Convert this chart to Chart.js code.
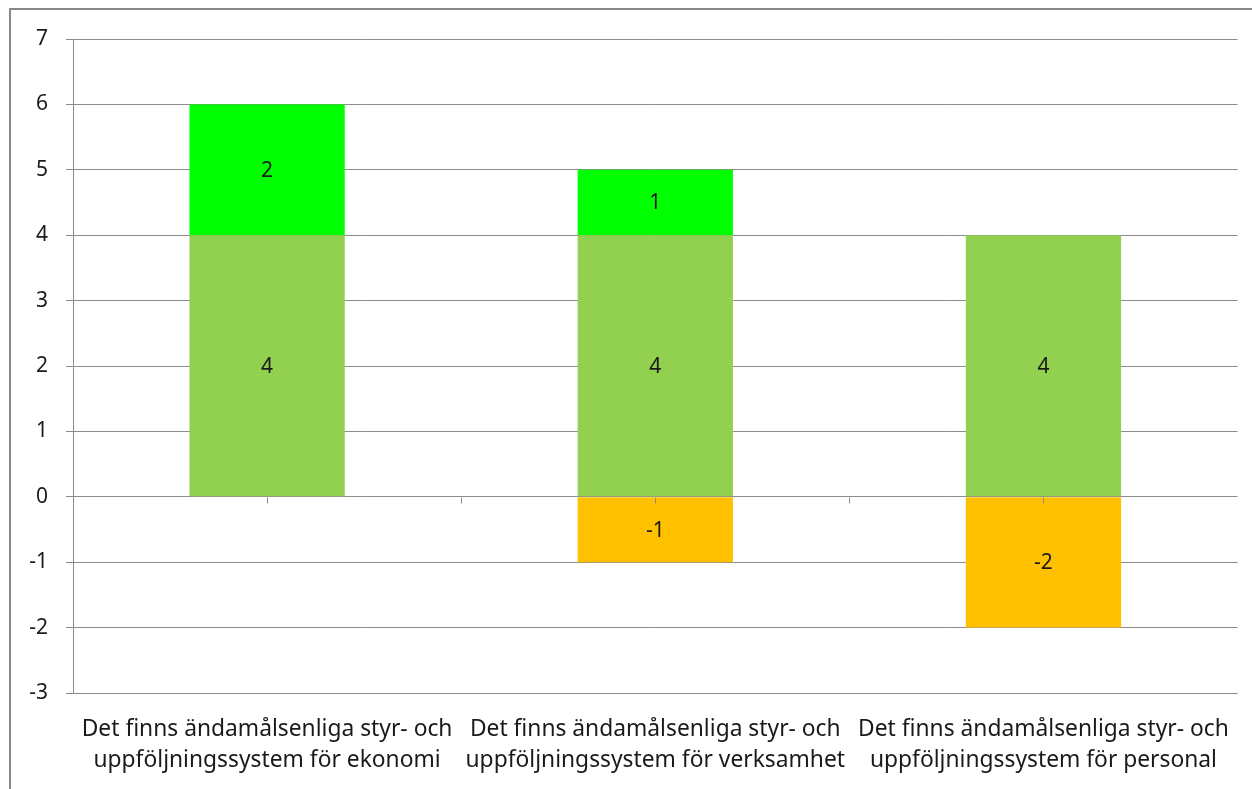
<!DOCTYPE html>
<html>
  <head>
    <title>styr- och uppföljningssystem</title>
    <style>
      body { margin: 0; background: #fff; }
      canvas { display: block; }
    </style>
  </head>
  <body>
    <canvas id="canvas" width="1252" height="789"></canvas>

    <script src="https://cdn.jsdelivr.net/npm/chart.js@4/dist/chart.umd.min.js"></script>
    <script>
      // data
      const categories = [
        ["Det finns ändamålsenliga styr- och", "uppföljningssystem för ekonomi"],
        ["Det finns ändamålsenliga styr- och", "uppföljningssystem för verksamhet"],
        ["Det finns ändamålsenliga styr- och", "uppföljningssystem för personal"],
      ];
      const seriesBase = [4, 4, 4];
      const seriesTop = [2, 1, 0];
      const seriesNeg = [0, -1, -2];
      const yTicks = [-3, -2, -1, 0, 1, 2, 3, 4, 5, 6, 7];

      const gridColor = "#8c8c8c";
      const fontFamily = "'Noto Sans', 'Liberation Sans', sans-serif";

      // labels in the middle of each bar
      const barLabels = {
        id: "barLabels",
        afterDatasetsDraw(chart) {
          const ctx = chart.ctx;
          ctx.save();
          ctx.font = "21px " + fontFamily;
          ctx.fillStyle = "#1a1a1a";
          ctx.textAlign = "center";
          ctx.textBaseline = "middle";
          chart.data.datasets.forEach((ds, i) => {
            chart.getDatasetMeta(i).data.forEach((bar, j) => {
              const v = ds.data[j];
              if (!v) return;
              const p = bar.getProps(["x", "y", "base"], true);
              ctx.fillText(String(v), p.x, (p.y + p.base) / 2 + 1);
            });
          });
          ctx.restore();
        },
      };

      // small ticks on the zero line + outer frame
      const extras = {
        id: "extras",
        beforeDraw(chart) {
          const ctx = chart.ctx;
          ctx.save();
          ctx.strokeStyle = "#888";
          ctx.lineWidth = 2;
          ctx.beginPath();
          ctx.moveTo(10, chart.height + 2);
          ctx.lineTo(10, 9);
          ctx.lineTo(chart.width + 2, 9);
          ctx.stroke();
          ctx.restore();
        },
        afterDatasetsDraw(chart) {
          const ctx = chart.ctx;
          const x = chart.scales.x;
          const y0 = Math.round(chart.scales.y.getPixelForValue(0)) + 0.5;
          ctx.save();
          ctx.strokeStyle = gridColor;
          ctx.lineWidth = 1;
          ctx.beginPath();
          const n = categories.length;
          const step = (x.right - x.left) / n;
          for (let k = 1; k < 2 * n; k++) {
            const px = Math.round(x.left + (k * step) / 2) + 0.5;
            ctx.moveTo(px, y0);
            ctx.lineTo(px, y0 + 6);
          }
          ctx.stroke();
          ctx.restore();
        },
      };

      const config = {
        type: "bar",
        data: {
          labels: categories,
          datasets: [
            { label: "Bas", data: seriesBase, backgroundColor: "#92D050" },
            { label: "Topp", data: seriesTop, backgroundColor: "#00FF00" },
            { label: "Neg", data: seriesNeg, backgroundColor: "#FFC000" },
          ],
        },
        options: {
          responsive: false,
          animation: false,
          layout: { padding: { top: 39, right: 13, left: 0, bottom: 0 } },
          datasets: {
            bar: { categoryPercentage: 1, barPercentage: 0.4, borderWidth: 0 },
          },
          plugins: {
            legend: { display: false },
            tooltip: { enabled: false },
          },
          scales: {
            x: {
              stacked: true,
              grid: { display: false, drawTicks: false },
              border: { display: false },
              ticks: {
                color: "#1a1a1a",
                font: { family: fontFamily, size: 22.8, lineHeight: 1.36 },
                padding: 21,
                maxRotation: 0,
                autoSkip: false,
              },
              afterFit(scale) {
                scale.height = 96;
              },
            },
            y: {
              stacked: true,
              min: -3,
              max: 7,
              afterBuildTicks(scale) {
                scale.ticks = yTicks.map((v) => ({ value: v }));
              },
              grid: { color: gridColor, tickLength: 7, lineWidth: 1 },
              border: { color: gridColor },
              ticks: {
                color: "#1a1a1a",
                font: { family: fontFamily, size: 21 },
                padding: 18,
              },
              afterFit(scale) {
                scale.width = 73;
              },
            },
          },
        },
        plugins: [barLabels, extras],
      };

      const ctx = document.getElementById("canvas").getContext("2d");
      const chart = new Chart(ctx, config);
    </script>
  </body>
</html>
